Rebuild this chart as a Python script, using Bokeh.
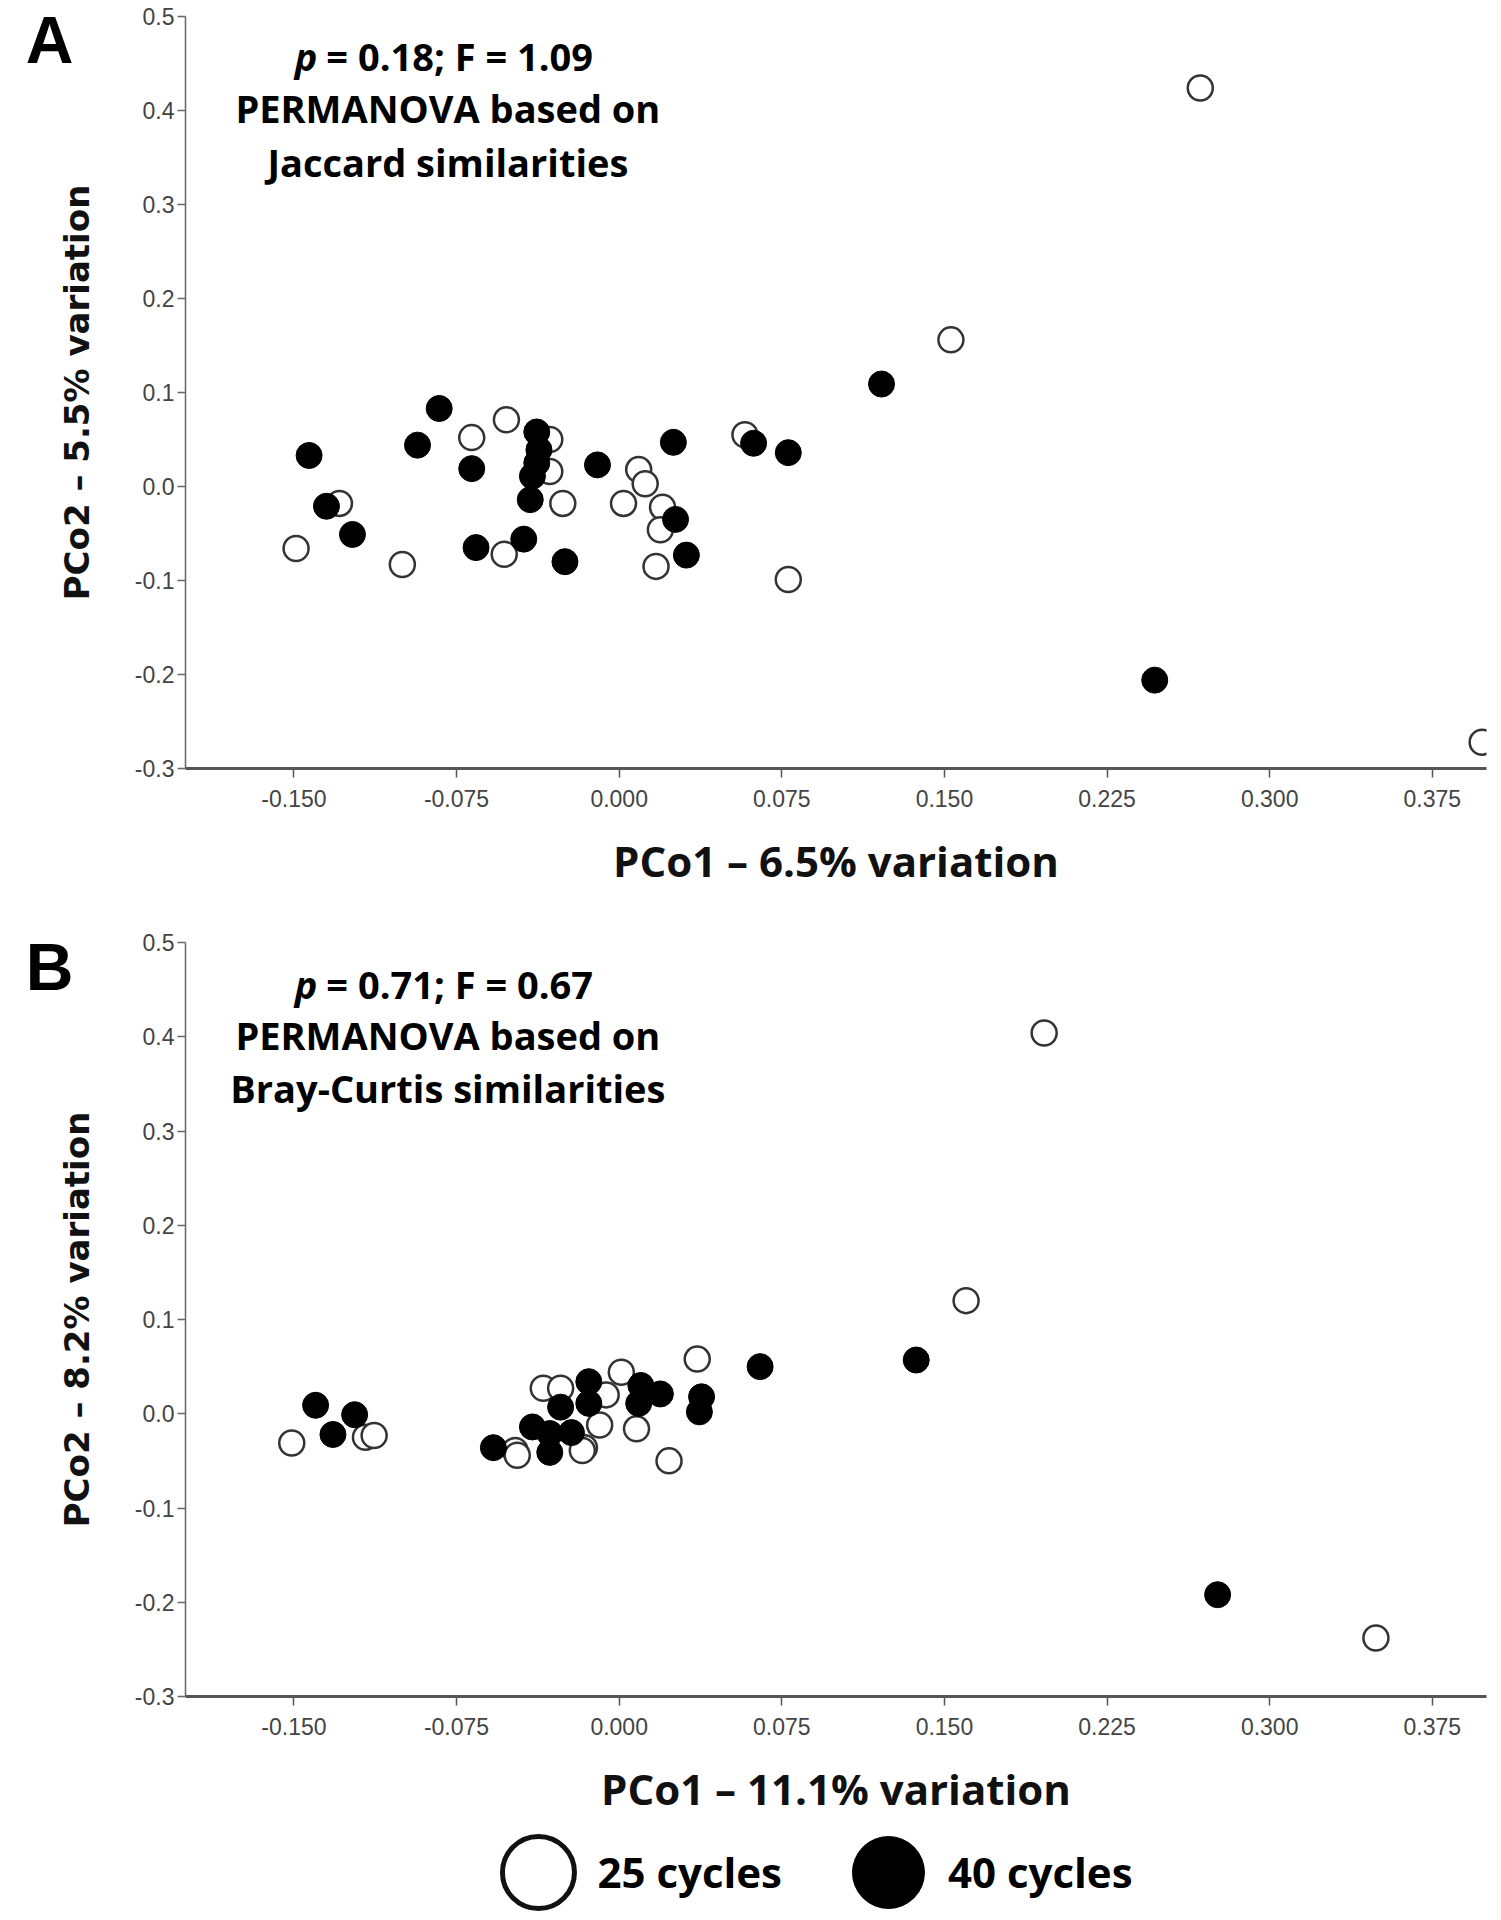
from bokeh.plotting import figure
from bokeh.models import (Range1d, FixedTicker, NumeralTickFormatter, Label,
                          Legend, LegendItem, LinearAxis)
from bokeh.layouts import column
from bokeh.embed import file_html
from bokeh.resources import INLINE

# ---------------- data ----------------
# Panel A (Jaccard)
xA25 = [-0.149, -0.129, -0.100, -0.068, -0.052, -0.053, -0.032, -0.032, -0.026, 0.002,
        0.009, 0.012, 0.020, 0.019, 0.017, 0.058, 0.078, 0.153, 0.268, 0.398]
yA25 = [-0.066, -0.018, -0.083, 0.052, 0.071, -0.072, 0.050, 0.016, -0.018, -0.018,
        0.018, 0.003, -0.022, -0.046, -0.085, 0.055, -0.099, 0.156, 0.424, -0.272]
xA40 = [-0.143, -0.135, -0.123, -0.093, -0.083, -0.068, -0.066, -0.044, -0.038, -0.037,
        -0.038, -0.040, -0.041, -0.025, -0.010, 0.025, 0.026, 0.031, 0.062, 0.078,
        0.121, 0.247]
yA40 = [0.033, -0.021, -0.051, 0.044, 0.083, 0.019, -0.065, -0.056, 0.058, 0.039,
        0.025, 0.011, -0.014, -0.080, 0.023, 0.047, -0.035, -0.073, 0.046, 0.036,
        0.109, -0.206]

# Panel B (Bray-Curtis)
xB25 = [-0.151, -0.117, -0.113, -0.048, -0.047, -0.035, -0.027, -0.016, -0.017, -0.006,
        -0.009, 0.001, 0.008, 0.023, 0.036, 0.160, 0.196, 0.349]
yB25 = [-0.031, -0.025, -0.023, -0.039, -0.044, 0.027, 0.027, -0.036, -0.039, 0.020,
        -0.012, 0.044, -0.016, -0.050, 0.058, 0.120, 0.404, -0.238]
xB40 = [-0.140, -0.132, -0.122, -0.058, -0.040, -0.032, -0.032, -0.027, -0.022, -0.014,
        -0.014, 0.010, 0.009, 0.019, 0.038, 0.037, 0.065, 0.137, 0.276]
yB40 = [0.009, -0.022, -0.001, -0.036, -0.014, -0.021, -0.041, 0.007, -0.020, 0.034,
        0.011, 0.030, 0.011, 0.021, 0.018, 0.002, 0.050, 0.057, -0.192]

x_ticks = [-0.15, -0.075, 0.0, 0.075, 0.15, 0.225, 0.3, 0.375]
y_ticks = [-0.3, -0.2, -0.1, 0.0, 0.1, 0.2, 0.3, 0.4, 0.5]

series_names = ["25 cycles", "40 cycles"]

W = 1500
TXT_FONT = "Open Sans"


def style_axes(p, xlabel, ylabel):
    p.xgrid.visible = False
    p.ygrid.visible = False
    p.outline_line_color = None
    p.background_fill_color = "white"
    p.border_fill_color = "white"

    xa = p.xaxis[0]
    xa.ticker = FixedTicker(ticks=x_ticks)
    xa.formatter = NumeralTickFormatter(format="0.000")
    xa.axis_line_width = 3
    xa.axis_line_color = "#555555"
    xa.major_tick_out = 9
    xa.major_tick_in = 0
    xa.major_tick_line_color = "#555555"
    xa.major_tick_line_width = 1.5
    xa.minor_tick_line_color = None
    xa.major_label_text_font = "Liberation Sans"
    xa.major_label_text_font_size = "23px"
    xa.major_label_text_color = "#444444"
    xa.major_label_standoff = 12
    xa.axis_label = xlabel
    xa.axis_label_text_font = TXT_FONT
    xa.axis_label_text_font_style = "bold"
    xa.axis_label_text_font_size = "42px"
    xa.axis_label_text_color = "#111111"
    xa.axis_label_standoff = 22

    ya = p.yaxis[0]
    ya.ticker = FixedTicker(ticks=y_ticks)
    ya.formatter = NumeralTickFormatter(format="0.0")
    ya.axis_line_width = 1.5
    ya.axis_line_color = "#666666"
    ya.major_tick_out = 8
    ya.major_tick_in = 0
    ya.major_tick_line_color = "#666666"
    ya.major_tick_line_width = 1.5
    ya.minor_tick_line_color = None
    ya.major_label_text_font = "Liberation Sans"
    ya.major_label_text_font_size = "23px"
    ya.major_label_text_color = "#444444"
    ya.major_label_standoff = 3
    ya.axis_label = ylabel
    ya.axis_label_text_font = "DejaVu Sans"
    ya.axis_label_text_font_style = "bold"
    ya.axis_label_text_font_size = "34px"
    ya.axis_label_text_color = "#111111"
    ya.axis_label_standoff = 35


def add_letter(p, letter, y_pos):
    # panel letter, drawn as the single label of an outer, line-less axis
    ax = LinearAxis(ticker=FixedTicker(ticks=[y_pos]),
                    major_label_overrides={y_pos: letter},
                    axis_line_color=None, major_tick_line_color=None,
                    minor_tick_line_color=None, major_label_standoff=-20,
                    major_tick_out=0, major_tick_in=0,
                    major_label_text_font="Liberation Sans",
                    major_label_text_font_style="bold",
                    major_label_text_font_size="66px",
                    major_label_text_color="black")
    p.add_layout(ax, "left")


def add_points(p, x25, y25, x40, y40):
    p.scatter(x25, y25, size=25, fill_color="white", line_color="#333333",
              line_width=2.5)
    p.scatter(x40, y40, size=26, fill_color="black", line_color="black",
              line_width=1)


def add_texts(p, stat_text, line2, line3, ys):
    common = dict(text_baseline="alphabetic", text_font=TXT_FONT,
                  text_font_size="38px", text_color="black")
    p.add_layout(Label(x=-0.1392, y=ys[0], text="p", text_align="right",
                       text_font_style="bold italic", **common))
    p.add_layout(Label(x=-0.1392, y=ys[0], x_offset=9, text=stat_text,
                       text_align="left", text_font_style="bold", **common))
    p.add_layout(Label(x=-0.079, y=ys[1], text=line2, text_align="center",
                       text_font_style="bold", **common))
    p.add_layout(Label(x=-0.079, y=ys[2], text=line3, text_align="center",
                       text_font_style="bold", **common))


# ---------------- Panel A ----------------
pA = figure(width=W, height=928, x_range=Range1d(-0.2, 0.4),
            y_range=Range1d(-0.3, 0.5), output_backend="svg",
            toolbar_location=None, min_border_left=185, min_border_right=11,
            min_border_top=16, min_border_bottom=160)
style_axes(pA, "PCo1 \u2013 6.5% variation", "PCo2 \u2013 5.5% variation")
add_letter(pA, "A", 0.48)
add_points(pA, xA25, yA25, xA40, yA40)
add_texts(pA, "= 0.18; F = 1.09", "PERMANOVA based on", "Jaccard similarities",
          (0.4585, 0.4029, 0.3455))

# ---------------- Panel B ----------------
pB = figure(width=W, height=897, x_range=Range1d(-0.2, 0.4),
            y_range=Range1d(-0.3, 0.5), output_backend="svg",
            toolbar_location=None, min_border_left=183, min_border_right=14,
            min_border_top=14, min_border_bottom=129)
style_axes(pB, "PCo1 \u2013 11.1% variation", "PCo2 \u2013 8.2% variation")
add_letter(pB, "B", 0.4772)
add_points(pB, xB25, yB25, xB40, yB40)
add_texts(pB, "= 0.71; F = 0.67", "PERMANOVA based on", "Bray-Curtis similarities",
          (0.4561, 0.4016, 0.3454))

# ---------------- Legend ----------------
# the legend strip shows only the legend; its ranges keep the series out of view
pL = figure(width=1454, height=93, x_range=Range1d(10, 11), y_range=Range1d(10, 11),
            output_backend="svg", toolbar_location=None,
            x_axis_type=None, y_axis_type=None,
            min_border_left=0, min_border_right=0, min_border_top=0,
            min_border_bottom=0)
pL.xgrid.visible = False
pL.ygrid.visible = False
pL.outline_line_color = None
r25 = pL.ellipse(x=xA25, y=yA25, width=25, height=25, width_units="screen",
                 height_units="screen", fill_color="white", line_color="#111111",
                 line_width=5)
r40 = pL.ellipse(x=xA40, y=yA40, width=25, height=25, width_units="screen",
                 height_units="screen", fill_color="black", line_color="black",
                 line_width=1)
legend = Legend(items=[LegendItem(label=series_names[0], renderers=[r25]),
                       LegendItem(label=series_names[1], renderers=[r40])],
                orientation="horizontal", location="center",
                glyph_width=90, glyph_height=90, label_standoff=15,
                spacing=61, padding=0, margin=0,
                label_text_font=TXT_FONT, label_text_font_style="bold",
                label_text_font_size="42px", label_text_color="black",
                border_line_alpha=0, background_fill_alpha=0)
pL.add_layout(legend, "center")

layout = column(pA, pB, pL)
open("out.html", "w").write(file_html(layout, INLINE))
